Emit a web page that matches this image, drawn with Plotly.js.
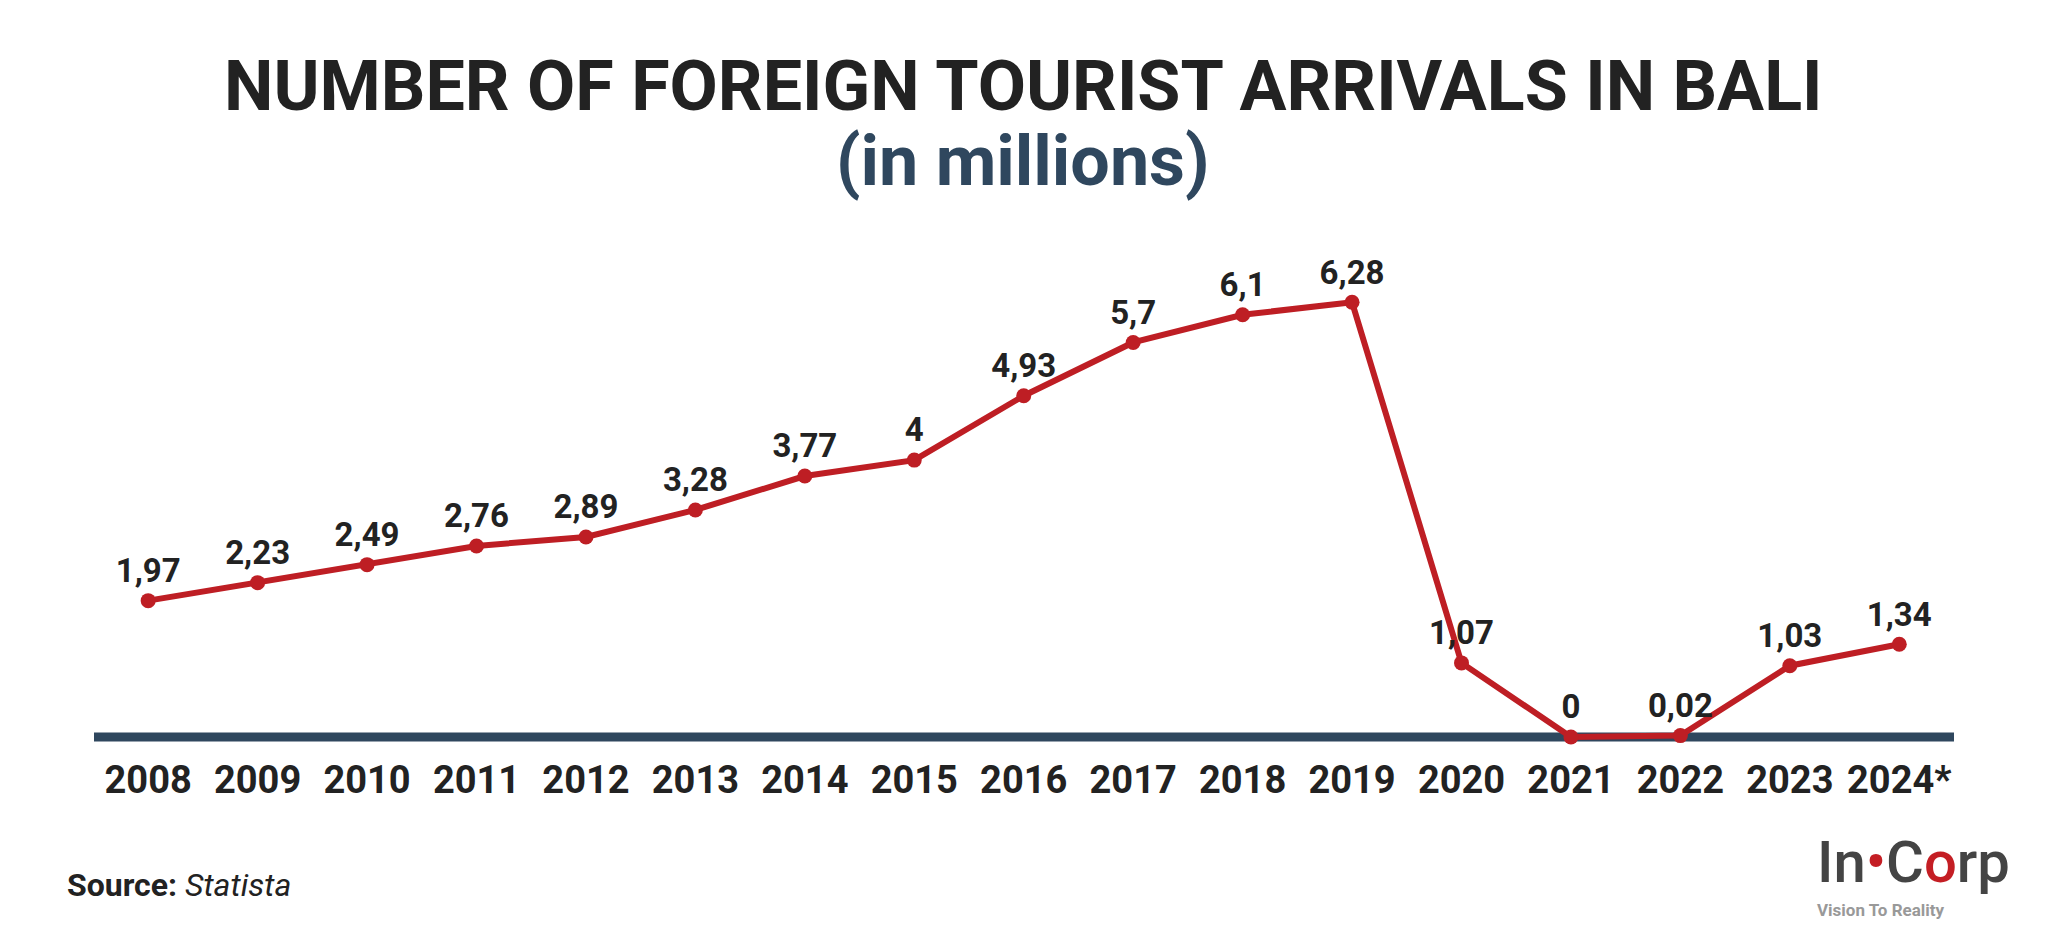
<!DOCTYPE html>
<html>
<head>
<meta charset="utf-8">
<script src="https://cdn.plot.ly/plotly-3.0.1.min.js"></script>
<style>
  html, body { margin: 0; padding: 0; background: #ffffff; }
  #chart { width: 2048px; height: 936px; }
</style>
</head>
<body>
<div id="chart"></div>
<script>
const years = ['2008','2009','2010','2011','2012','2013','2014','2015','2016','2017','2018','2019','2020','2021','2022','2023','2024*'];
const arrivals = [1.97, 2.23, 2.49, 2.76, 2.89, 3.28, 3.77, 4, 4.93, 5.7, 6.1, 6.28, 1.07, 0, 0.02, 1.03, 1.34];
const labels = arrivals.map(v => String(v).replace('.', ','));

const xIdx = years.map((_, i) => i);

const trace = {
  x: xIdx,
  y: arrivals,
  text: labels,
  type: 'scatter',
  mode: 'lines+markers+text',
  textposition: 'top center',
  textfont: { family: 'Roboto', size: 33, color: '#222222', weight: 700 },
  line: { color: '#be1e24', width: 6 },
  marker: { color: '#be1e24', size: 15 },
  cliponaxis: false,
  hoverinfo: 'skip'
};

const layout = {
  width: 2048,
  height: 936,
  paper_bgcolor: '#ffffff',
  plot_bgcolor: '#ffffff',
  margin: { l: 94, r: 94, t: 240, b: 186 },
  showlegend: false,
  font: { family: 'Roboto', color: '#222222' },
  xaxis: {
    range: [-0.495, 16.5],
    tickmode: 'array',
    tickvals: xIdx,
    ticktext: years,
    showgrid: false,
    zeroline: false,
    showline: false,
    ticks: '',
    ticklabelstandoff: 4,
    tickfont: { family: 'Roboto', size: 38, color: '#222222', weight: 700 },
    fixedrange: true
  },
  yaxis: {
    range: [-0.188, 7.18],
    showgrid: false,
    zeroline: false,
    showline: false,
    showticklabels: false,
    ticks: '',
    fixedrange: true
  },
  shapes: [{
    type: 'line', xref: 'paper', yref: 'y',
    x0: 0, x1: 1, y0: 0, y1: 0,
    line: { color: '#2f475e', width: 9 },
    layer: 'below'
  }],
  annotations: [
    {
      text: 'NUMBER OF FOREIGN TOURIST ARRIVALS IN BALI',
      xref: 'paper', yref: 'paper', x: 0.4994, y: 1.302,
      xanchor: 'center', yanchor: 'middle', showarrow: false,
      font: { family: 'Roboto', size: 70, color: '#222222', weight: 700 }
    },
    {
      text: '(in millions)',
      xref: 'paper', yref: 'paper', x: 0.4994, y: 1.155,
      xanchor: 'center', yanchor: 'middle', showarrow: false,
      font: { family: 'Roboto', size: 70, color: '#2f475e', weight: 700 }
    },
    {
      text: '<b>Source:</b> <i>Statista</i>',
      xref: 'paper', yref: 'paper', x: -0.0156, y: -0.265,
      xanchor: 'left', yanchor: 'middle', showarrow: false,
      font: { family: 'Roboto', size: 32, color: '#222222' }
    },
    {
      text: 'In<span style="color:#c41e24">•</span>C<span style="color:#c41e24">o</span>rp',
      xref: 'paper', yref: 'paper', x: 0.925, y: -0.22,
      xanchor: 'left', yanchor: 'middle', showarrow: false,
      font: { family: 'Roboto', size: 58, color: '#444444', weight: 500 }
    },
    {
      text: 'Vision To Reality',
      xref: 'paper', yref: 'paper', x: 0.925, y: -0.314,
      xanchor: 'left', yanchor: 'middle', showarrow: false,
      font: { family: 'Roboto', size: 17, color: '#999999', weight: 700 }
    }
  ]
};

Plotly.newPlot('chart', [trace], layout, { displayModeBar: false, staticPlot: true });
</script>
</body>
</html>
